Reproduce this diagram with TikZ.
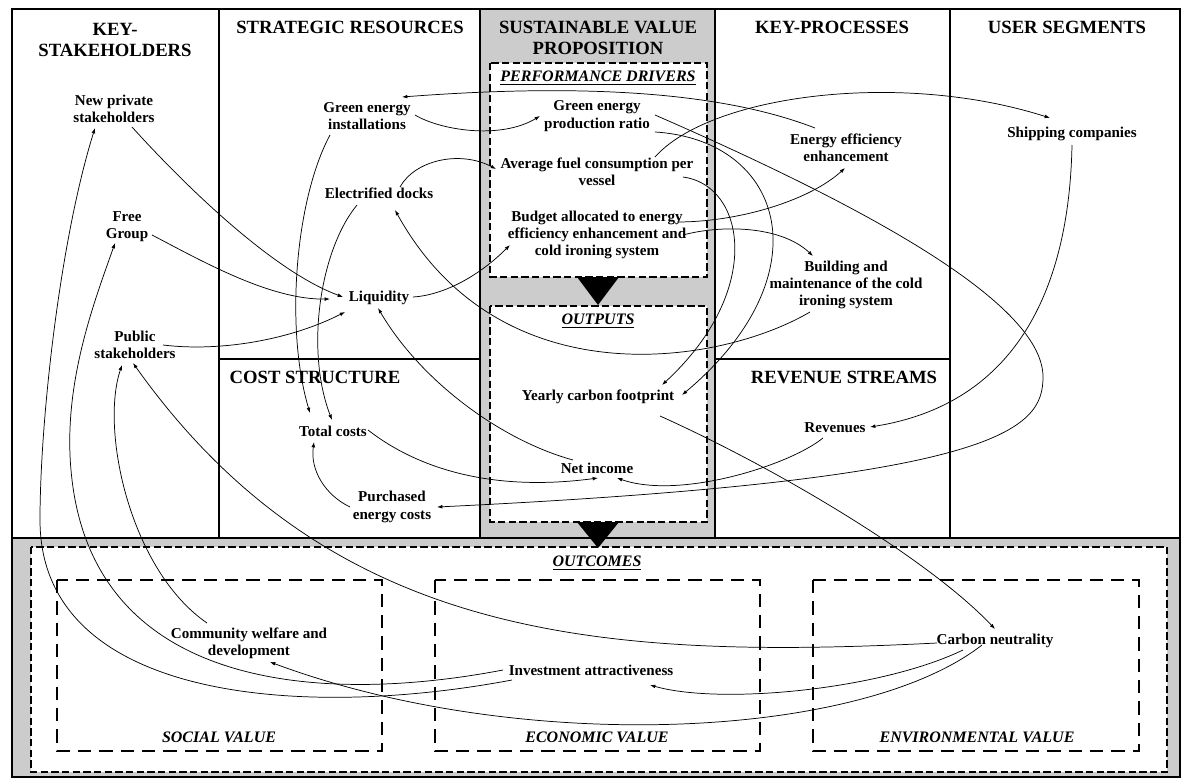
\documentclass[tikz,border=0pt]{standalone}
\usepackage{fontspec}
\setmainfont{Liberation Serif}
\usetikzlibrary{calc,arrows.meta}
\begin{document}
\begin{tikzpicture}[x=0.75pt,y=-0.75pt,
  frame/.style={line width=2pt},
  lbl/.style={font=\bfseries\fontsize{11.3}{13}\selectfont, align=center, inner sep=1pt},
  ttl/.style={font=\bfseries\fontsize{14}{16}\selectfont, align=center, inner sep=1pt},
  sec/.style={font=\bfseries\itshape\fontsize{12}{14}\selectfont, inner sep=1pt},
  dbox/.style={draw, line width=1.7pt, dash pattern=on 5.5pt off 2.5pt, fill=white},
  vbox/.style={draw, line width=1.7pt, dash pattern=on 10pt off 6pt},
  conn/.style={line width=0.55pt, -{Latex[length=4pt,width=2.8pt]}},
  tri/.style={fill=black},
]
\useasboundingbox (0,0) rectangle (1182,778);
% fills
\fill[white] (0,0) rectangle (1182,778);
\fill[gray!40] (480,9) rectangle (715,538);
\fill[gray!40] (12,538) rectangle (1180,777);
% dashed boxes
\draw[dbox] (490,63) rectangle (707,277);
\draw[dbox] (490,306) rectangle (707,522);
\draw[dbox] (31,547) rectangle (1167,772);
\draw[vbox] (57,580) rectangle (382,751);
\draw[vbox] (435,580) rectangle (760,751);
\draw[vbox] (813,580) rectangle (1139,751);
% frame
\draw[frame] (12,9) rectangle (1180,777);
\draw[frame] (219,9) -- (219,538);
\draw[frame] (480,9) -- (480,538);
\draw[frame] (715,9) -- (715,538);
\draw[frame] (950,9) -- (950,538);
\draw[frame] (219,359) -- (480,359);
\draw[frame] (715,359) -- (950,359);
\draw[frame] (12,538) -- (1180,538);
% triangles
\fill[tri] (577,277) -- (619,277) -- (598,305) -- cycle;
\fill[tri] (577,522) -- (619,522) -- (598,548) -- cycle;
% titles
\node[ttl] (tks) at (115,40) {KEY-\\STAKEHOLDERS};
\node[ttl] (tsr) at (350,27) {STRATEGIC RESOURCES};
\node[ttl] (tsvp) at (598,38) {SUSTAINABLE VALUE\\PROPOSITION};
\node[ttl] (tkp) at (832,27) {KEY-PROCESSES};
\node[ttl] (tus) at (1067,27) {USER SEGMENTS};
\node[ttl] (tcs) at (315,377) {COST STRUCTURE};
\node[ttl] (trs) at (844,377) {REVENUE STREAMS};
% section labels
\node[sec] (pd) at (598,78) {\underline{PERFORMANCE DRIVERS}};
\node[sec] (outp) at (598,321) {\underline{OUTPUTS}};
\node[sec] (outc) at (597,563) {\underline{OUTCOMES}};
\node[sec] (soc) at (219,737) {SOCIAL VALUE};
\node[sec] (eco) at (597,737) {ECONOMIC VALUE};
\node[sec] (env) at (977,737) {ENVIRONMENTAL VALUE};
% nodes
\node[lbl] (newpriv) at (114,109) {New private\\stakeholders};
\node[lbl] (free) at (127,227) {Free\\Group};
\node[lbl] (public) at (135,345) {Public\\stakeholders};
\node[lbl] (greeninst) at (367,116) {Green energy\\installations};
\node[lbl] (edocks) at (379,193) {Electrified docks};
\node[lbl] (liq) at (379,298) {Liquidity};
\node[lbl] (totalc) at (333,431) {Total costs};
\node[lbl] (purch) at (392,507) {Purchased\\energy costs};
\node[lbl] (gepr) at (597,116) {Green energy\\production ratio};
\node[lbl] (avgfuel) at (597,172) {Average fuel consumption per\\vessel};
\node[lbl] (budget) at (597,235) {Budget allocated to energy\\efficiency enhancement and\\cold ironing system};
\node[lbl] (yearly) at (598,397) {Yearly carbon footprint};
\node[lbl] (netinc) at (597,468) {Net income};
\node[lbl] (eee) at (846,148) {Energy efficiency\\enhancement};
\node[lbl] (building) at (846,285) {Building and\\maintenance of the cold\\ironing system};
\node[lbl] (revenues) at (835,428) {Revenues};
\node[lbl] (shipping) at (1072,134) {Shipping companies};
\node[lbl] (community) at (249,643) {Community welfare and\\development};
\node[lbl] (invest) at (591,670) {Investment attractiveness};
\node[lbl] (carbon) at (995,641) {Carbon neutrality};
% connectors
\draw[conn] ($(newpriv)+(18,18)$) .. controls (180,180) and (270,270) .. ($(liq)+(-36,-1)$);
\draw[conn] ($(free)+(25,8)$) .. controls (200,260) and (270,300) .. ($(liq)+(-49,1)$);
\draw[conn] ($(public)+(28,0)$) .. controls (220,352) and (290,340) .. ($(liq)+(-34,14)$);
\draw[conn] ($(greeninst)+(-37,19)$) .. controls (295,200) and (285,330) .. ($(totalc)+(-23,-18)$);
\draw[conn] ($(edocks)+(-22,12)$) .. controls (320,250) and (305,350) .. ($(totalc)+(-1,-11)$);
\draw[conn] ($(purch)+(-42,0)$) .. controls (325,495) and (310,470) .. ($(totalc)+(-19,11)$);
\draw[conn] ($(totalc)+(35,-1)$) .. controls (400,455) and (470,495) .. ($(netinc)+(1,10)$);
\draw[conn] ($(netinc)+(-24,-8)$) .. controls (500,440) and (420,380) .. ($(liq)+(-1,10)$);
\draw[conn] ($(liq)+(34,-1)$) .. controls (445,295) and (480,275) .. ($(budget)+(-87,10)$);
\draw[conn] ($(greeninst)+(48,-1)$) .. controls (440,130) and (500,140) .. ($(gepr)+(-57,0)$);
\draw[conn] ($(eee)+(-31,-20)$) .. controls (730,95) and (600,82) .. ($(greeninst)+(35,-19)$);
\draw[conn] ($(avgfuel)+(58,-15)$) .. controls (710,95) and (900,70) .. ($(shipping)+(-22,-16)$);
\draw[conn] ($(budget)+(80,-13)$) .. controls (740,222) and (810,200) .. ($(eee)+(-1,20)$);
\draw[conn] ($(budget)+(86,0)$) .. controls (720,225) and (780,225) .. ($(building)+(-33,-29)$);
\coordinate (loopR) at (1043,377);
\draw[conn] ($(gepr)+(58,-1)$) .. controls (850,200) and (1043,300) .. (loopR) .. controls (1043,430) and (1000,480) .. ($(purch)+(45,0)$);
\draw[conn] ($(gepr)+(58,16)$) .. controls (785,140) and (825,275) .. ($(yearly)+(84,-2)$);
\draw[conn] ($(avgfuel)+(86,5)$) .. controls (745,185) and (765,290) .. ($(yearly)+(64,-12)$);
\draw[conn] ($(building)+(-36,27)$) .. controls (720,365) and (500,400) .. ($(edocks)+(16,17)$);
\draw[conn] ($(edocks)+(21,-6)$) .. controls (415,160) and (460,150) .. ($(avgfuel)+(-101,-3)$);
\draw[conn] ($(yearly)+(62,19)$) .. controls (780,470) and (930,560) .. ($(carbon)+(0,-12)$);
\draw[conn] ($(shipping)+(0,11)$) .. controls (1070,250) and (1040,400) .. ($(revenues)+(35,-1)$);
\draw[conn] ($(revenues)+(-12,10)$) .. controls (790,465) and (680,500) .. ($(netinc)+(20,10)$);
\coordinate (lowA) at (40,520);
\draw[conn] ($(invest)+(-79,10)$) .. controls (300,720) and (40,700) .. (lowA) .. controls (40,420) and (60,240) .. ($(newpriv)+(-19,19)$);
\coordinate (lowB) at (71,470);
\draw[conn] ($(invest)+(-88,0)$) .. controls (320,705) and (90,690) .. (lowB) .. controls (63,382) and (95,300) .. ($(free)+(-12,16)$);
\draw[conn] ($(community)+(-42,-20)$) .. controls (130,570) and (100,430) .. ($(public)+(-13,20)$);
\draw[conn] ($(carbon)+(-58,2)$) .. controls (600,660) and (330,640) .. ($(public)+(-2,18)$);
\draw[conn] ($(carbon)+(-32,9)$) .. controls (880,690) and (720,705) .. ($(invest)+(59,15)$);
\draw[conn] ($(carbon)+(-13,4)$) .. controls (860,740) and (520,755) .. ($(community)+(21,19)$);
\end{tikzpicture}
\end{document}
